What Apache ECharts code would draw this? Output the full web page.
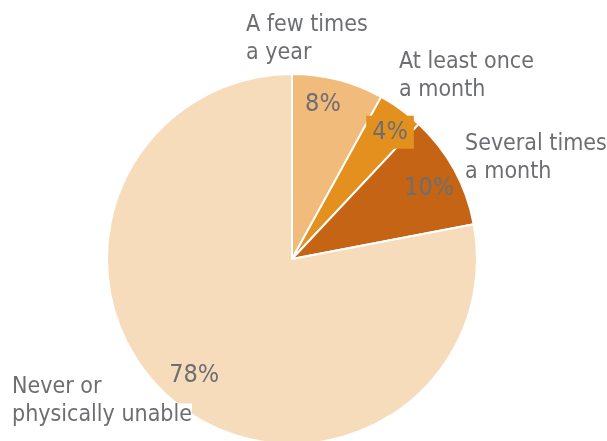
<!DOCTYPE html>
<html><head><meta charset="utf-8">
<script src="https://cdn.jsdelivr.net/npm/echarts@6/dist/echarts.min.js"></script>
<style>html,body{margin:0;padding:0;background:#fff}#c{width:607px;height:441px}</style>
</head><body><div id="c"></div>
<script>
const categories = ['A few times\na year', 'At least once\na month', 'Several times\na month', 'Never or\nphysically unable'];
const values = [8, 4, 10, 78];
const percentLabels = ['8%', '4%', '10%', '78%'];

const colors = ['#f0bb7b', '#e3901f', '#c46414', '#f7dcbb'];
const labelAnchors = [[246, 11], [399, 48], [465, 130], [12, 373]];
const pctOffsets = [[-8, -3], [6, 0], [0, 5], [2, -4]];
const FONT = "'Liberation Sans Narrow', 'DejaVu Sans Condensed', 'Roboto', sans-serif";
const GREY = '#6d6e71';
const C = [292, 259], R = 185;

const chart = echarts.init(document.getElementById('c'));
const data = categories.map((n, i) => ({ name: n, value: values[i], itemStyle: { color: colors[i] } }));

chart.setOption({
  animation: false,
  series: [
    {
      type: 'pie', center: C, radius: [0, R], startAngle: 90, clockwise: true,
      itemStyle: { borderColor: '#fff', borderWidth: 2 },
      label: { show: false }, labelLine: { show: false }, silent: true,
      data: data
    },
    {
      type: 'pie', center: C, radius: [R * 0.66, R], startAngle: 90, clockwise: true,
      itemStyle: { color: 'transparent' }, silent: true,
      label: {
        show: true, position: 'inside', color: GREY, fontFamily: FONT, fontSize: 25,
        formatter: p => percentLabels[p.dataIndex]
      },
      labelLine: { show: false },
      labelLayout: p => ({ dx: pctOffsets[p.dataIndex][0], dy: pctOffsets[p.dataIndex][1] }),
      data: data.map((d, i) => ({
        name: d.name, value: d.value,
        label: i === 1 ? { backgroundColor: colors[1], padding: [4, 6, 4, 6] } : {}
      }))
    },
    {
      type: 'pie', center: C, radius: [0, R], startAngle: 90, clockwise: true,
      itemStyle: { color: 'transparent' }, silent: true,
      label: {
        show: true, position: 'outside', color: GREY, fontFamily: FONT, fontSize: 23, lineHeight: 28,
        align: 'left', overflow: 'none', width: 300,
        formatter: p => p.name.split('\n').map(s => '{w|' + s + '}').join('\n'),
        rich: { w: { color: GREY, fontFamily: FONT, fontSize: 23, lineHeight: 28, backgroundColor: '#fff' } }
      },
      labelLine: { show: false },
      labelLayout: p => ({ x: labelAnchors[p.dataIndex][0], y: labelAnchors[p.dataIndex][1], align: 'left', verticalAlign: 'top' }),
      data: data.map(d => ({ name: d.name, value: d.value }))
    }
  ]
});
</script></body></html>
